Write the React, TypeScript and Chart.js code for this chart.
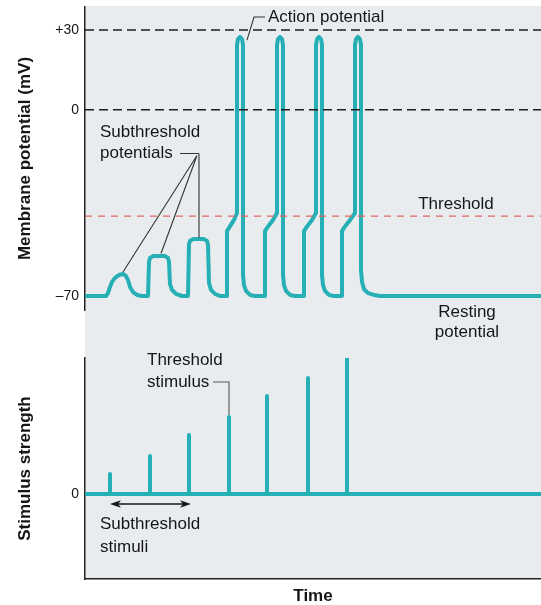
import React, { useEffect, useRef } from 'react';
import { Chart, registerables } from 'chart.js';

Chart.register(...registerables);

// ---------- DATA ----------
const timeRange = [0, 45.6];

// Membrane potential trace (time in arbitrary units, mV)
const traceTime = [
  0, 2.1, 2.3, 2.5, 2.7, 3.0, 3.4, 3.8, 4.1, 4.3, 4.5, 4.8, 5.2, 5.7, 6.3,
  6.4, 6.5, 6.8, 8.0, 8.3, 8.4, 8.5, 8.7, 9.1, 9.7, 10.3,
  10.4, 10.5, 10.8, 11.9, 12.2, 12.3, 12.4, 12.6, 13.0, 13.5, 14.2,
  14.2, 14.4, 14.9, 15.2, 15.2, 15.3, 15.5, 15.7, 15.8, 15.8, 15.9, 16.1, 16.5, 17.0, 18.0,
  18.0, 18.2, 18.8, 19.2, 19.2, 19.3, 19.5, 19.7, 19.8, 19.8, 19.9, 20.1, 20.5, 21.0, 21.9,
  21.9, 22.1, 22.7, 23.1, 23.1, 23.2, 23.4, 23.6, 23.7, 23.7, 23.8, 24.0, 24.4, 24.9, 25.7,
  25.7, 25.9, 26.5, 27.0, 27.0, 27.1, 27.3, 27.5, 27.6, 27.6, 27.7, 27.9, 28.3, 28.9, 29.5, 45.6,
];
const traceMv = [
  -70, -70, -68.9, -66.6, -64.7, -63.2, -62.1, -61.7, -62.5, -64.0, -66.6, -68.5, -69.6, -70, -70,
  -57.2, -55.7, -55.0, -55.0, -55.7, -57.2, -65.5, -67.7, -69.2, -70, -70,
  -50.5, -49.3, -48.6, -48.6, -49.3, -50.8, -65.1, -67.7, -69.2, -70, -70,
  -45.6, -44.4, -41.4, -38.8, 24.4, 26.6, 27.4, 26.6, 24.4, -62.1, -65.9, -68.1, -69.6, -70, -70,
  -45.6, -44.4, -41.4, -38.8, 24.4, 26.6, 27.4, 26.6, 24.4, -62.1, -65.9, -68.1, -69.6, -70, -70,
  -45.6, -44.4, -41.4, -38.8, 24.4, 26.6, 27.4, 26.6, 24.4, -62.1, -65.9, -68.1, -69.6, -70, -70,
  -45.6, -44.4, -41.4, -38.8, 24.4, 26.6, 27.4, 26.6, 24.4, -60.2, -64.7, -67.4, -68.9, -69.6, -70, -70,
];

const membraneTicks = [-70, 0, 30];
const membraneRange = [-75.26, 38.65];
const peakRefMv = 30;
const zeroMv = 0;
const thresholdMv = -40;

// Stimuli
const stimulusTimes = [2.5, 6.5, 10.4, 14.4, 18.2, 22.3, 26.2];
const stimulusStrength = [1.0, 1.9, 2.95, 3.85, 4.9, 5.8, 6.8];
const stimulusTicks = [0];
const stimulusRange = [-4.25, 6.8];

// Annotation anchors (data coordinates)
const actionLeaderT = [16.2, 16.9, 18.0];
const actionLeaderMv = [26.2, 34.9, 34.9];
const actionLabel = { t: 18.3, mv: 34.9, text: 'Action potential' };
const subPotLabel = { t: 1.5, mv: [-8.3, -16.2], text: ['Subthreshold', 'potentials'] };
const subPotHoriz = { t: [9.5, 11.4], mv: -16.4 };
const subPotVert = { t: 11.4, mv: [-16.4, -48.1] };
const subPotDiagFrom = { t: 11.2, mv: -17.2 };
const subPotDiagTo = { t: [3.8, 7.6], mv: [-61.0, -54.0] };
const thresholdLabel = { t: 37.1, mv: -35.4, text: 'Threshold' };
const restingLabel = { t: 38.2, mv: [-76.0, -83.5], text: ['Resting', 'potential'] };

const thrStimLabel = { t: 6.2, v: [6.7, 5.6], text: ['Threshold', 'stimulus'] };
const thrStimLeaderT = [12.8, 14.4, 14.4];
const thrStimLeaderV = [5.6, 5.6, 3.95];
const subStimArrow = { t: [2.5, 10.6], v: -0.5 };
const subStimLabel = { t: 1.5, v: [-1.5, -2.65], text: ['Subthreshold', 'stimuli'] };

// ---------- STYLE ----------
const FONT = '"Liberation Sans", Arial, Helvetica, sans-serif';
const TEAL = '#27afb6';
const INK = '#161616';
const AXIS = '#222';

const refLine = (label: string, y: number, color: string, dash: number[], width: number) => ({
  label,
  data: [{ x: timeRange[0], y }, { x: timeRange[1], y }],
  borderColor: color,
  borderWidth: width,
  borderDash: dash,
  pointRadius: 0,
  order: 0,
});

const textStyle = (ctx: CanvasRenderingContext2D) => {
  ctx.fillStyle = INK;
  ctx.font = `17px ${FONT}`;
  ctx.textBaseline = 'middle';
};

const topAnnotations = {
  id: 'topAnnotations',
  afterDatasetsDraw(chart: any) {
    const { ctx } = chart;
    const xs = chart.scales.x;
    const ys = chart.scales.y;
    const X = (t: number) => xs.getPixelForValue(t);
    const Y = (v: number) => ys.getPixelForValue(v);
    ctx.save();
    ctx.strokeStyle = '#333';
    ctx.lineWidth = 1.1;
    ctx.beginPath();
    actionLeaderT.forEach((t, i) => (i ? ctx.lineTo(X(t), Y(actionLeaderMv[i])) : ctx.moveTo(X(t), Y(actionLeaderMv[i]))));
    ctx.stroke();
    ctx.beginPath();
    ctx.moveTo(X(subPotHoriz.t[0]), Y(subPotHoriz.mv));
    ctx.lineTo(X(subPotHoriz.t[1]), Y(subPotHoriz.mv));
    ctx.moveTo(X(subPotVert.t), Y(subPotVert.mv[0]));
    ctx.lineTo(X(subPotVert.t), Y(subPotVert.mv[1]));
    subPotDiagTo.t.forEach((t, i) => {
      ctx.moveTo(X(subPotDiagFrom.t), Y(subPotDiagFrom.mv));
      ctx.lineTo(X(t), Y(subPotDiagTo.mv[i]));
    });
    ctx.stroke();

    textStyle(ctx);
    ctx.textAlign = 'left';
    ctx.fillText(actionLabel.text, X(actionLabel.t), Y(actionLabel.mv));
    subPotLabel.text.forEach((s, i) => ctx.fillText(s, X(subPotLabel.t), Y(subPotLabel.mv[i])));
    ctx.textAlign = 'center';
    ctx.fillText(thresholdLabel.text, X(thresholdLabel.t), Y(thresholdLabel.mv));
    restingLabel.text.forEach((s, i) => ctx.fillText(s, X(restingLabel.t), Y(restingLabel.mv[i])));
    ctx.restore();
  },
};

const bottomAnnotations = {
  id: 'bottomAnnotations',
  afterDatasetsDraw(chart: any) {
    const { ctx } = chart;
    const xs = chart.scales.x;
    const ys = chart.scales.y;
    const X = (t: number) => xs.getPixelForValue(t);
    const Y = (v: number) => ys.getPixelForValue(v);
    ctx.save();
    ctx.strokeStyle = '#555';
    ctx.lineWidth = 1.1;
    ctx.beginPath();
    thrStimLeaderT.forEach((t, i) => (i ? ctx.lineTo(X(t), Y(thrStimLeaderV[i])) : ctx.moveTo(X(t), Y(thrStimLeaderV[i]))));
    ctx.stroke();

    const ay = Y(subStimArrow.v);
    const x1 = X(subStimArrow.t[0]);
    const x2 = X(subStimArrow.t[1]);
    ctx.strokeStyle = INK;
    ctx.fillStyle = INK;
    ctx.lineWidth = 1.5;
    ctx.beginPath();
    ctx.moveTo(x1 + 5, ay);
    ctx.lineTo(x2 - 5, ay);
    ctx.stroke();
    ctx.beginPath();
    ctx.moveTo(x1, ay);
    ctx.lineTo(x1 + 11, ay - 3.8);
    ctx.lineTo(x1 + 8, ay);
    ctx.lineTo(x1 + 11, ay + 3.8);
    ctx.closePath();
    ctx.fill();
    ctx.beginPath();
    ctx.moveTo(x2, ay);
    ctx.lineTo(x2 - 11, ay - 3.8);
    ctx.lineTo(x2 - 8, ay);
    ctx.lineTo(x2 - 11, ay + 3.8);
    ctx.closePath();
    ctx.fill();

    textStyle(ctx);
    ctx.textAlign = 'left';
    thrStimLabel.text.forEach((s, i) => ctx.fillText(s, X(thrStimLabel.t), Y(thrStimLabel.v[i])));
    subStimLabel.text.forEach((s, i) => ctx.fillText(s, X(subStimLabel.t), Y(subStimLabel.v[i])));
    ctx.restore();
  },
};

const yTitle = (text: string) => ({
  display: true,
  text,
  color: INK,
  font: { size: 17, weight: 'bold' as const, family: FONT },
  padding: { top: 15, bottom: 0 },
});

const tickFmt = (v: any) => (v > 0 ? '+' + v : v < 0 ? '\u2013' + Math.abs(v) : '0');

const fixYAxis = (s: any) => {
  s.width = 85;
  s.paddingTop = 0;
  s.paddingBottom = 0;
};

export default function App() {
  const topRef = useRef<HTMLCanvasElement | null>(null);
  const botRef = useRef<HTMLCanvasElement | null>(null);

  useEffect(() => {
    if (!topRef.current || !botRef.current) return;

    const membraneData = traceTime.map((t, i) => ({ x: t, y: traceMv[i] }));
    const top = new Chart(topRef.current, {
      type: 'line',
      data: {
        datasets: [
          refLine('+30 mV', peakRefMv, '#1e1e1e', [9, 5], 1.6),
          refLine('0 mV', zeroMv, '#1e1e1e', [9, 5], 1.6),
          refLine('Threshold', thresholdMv, '#e5645e', [7, 6], 1.3),
          {
            label: 'Membrane potential',
            data: membraneData,
            borderColor: TEAL,
            borderWidth: 4,
            pointRadius: 0,
            tension: 0,
            borderJoinStyle: 'round',
            borderCapStyle: 'round',
            order: 1,
          },
        ] as any,
      },
      options: {
        responsive: false,
        animation: false,
        events: [],
        layout: { padding: { top: 7, bottom: 295, left: 0, right: 0 }, autoPadding: false },
        plugins: { legend: { display: false }, tooltip: { enabled: false } },
        scales: {
          x: { type: 'linear', display: false, min: timeRange[0], max: timeRange[1] },
          y: {
            type: 'linear',
            min: membraneRange[0],
            max: membraneRange[1],
            afterBuildTicks: (s: any) => {
              s.ticks = membraneTicks.map((v) => ({ value: v }));
            },
            afterFit: fixYAxis,
            grid: { display: false, drawTicks: false },
            border: { display: true, color: AXIS, width: 1.5 },
            ticks: { padding: 6, color: INK, font: { size: 14, family: FONT }, callback: tickFmt },
            title: yTitle('Membrane potential (mV)'),
          },
        },
      } as any,
      plugins: [topAnnotations],
    });

    const stimData: { x: number; y: number }[] = [{ x: timeRange[0], y: 0 }];
    stimulusTimes.forEach((t, i) => {
      stimData.push({ x: t, y: 0 }, { x: t, y: stimulusStrength[i] }, { x: t, y: 0 });
    });
    stimData.push({ x: timeRange[1], y: 0 });

    const bottom = new Chart(botRef.current, {
      type: 'line',
      data: {
        datasets: [
          {
            label: 'Stimulus strength',
            data: stimData,
            borderColor: TEAL,
            borderWidth: 4,
            pointRadius: 0,
            tension: 0,
            borderJoinStyle: 'round',
            borderCapStyle: 'round',
          },
        ] as any,
      },
      options: {
        responsive: false,
        animation: false,
        events: [],
        layout: { padding: { top: 358, bottom: 0, left: 0, right: 0 }, autoPadding: false },
        plugins: { legend: { display: false }, tooltip: { enabled: false } },
        scales: {
          x: {
            type: 'linear',
            min: timeRange[0],
            max: timeRange[1],
            afterFit: (s: any) => {
              s.height = 26;
            },
            ticks: { display: false },
            grid: { display: false, drawTicks: false },
            border: { display: true, color: AXIS, width: 1.5 },
            title: {
              display: true,
              text: 'Time',
              color: INK,
              font: { size: 17, weight: 'bold', family: FONT, lineHeight: 1.06 },
              padding: { top: 0, bottom: 0 },
            },
          },
          y: {
            type: 'linear',
            min: stimulusRange[0],
            max: stimulusRange[1],
            afterBuildTicks: (s: any) => {
              s.ticks = stimulusTicks.map((v) => ({ value: v }));
            },
            afterFit: fixYAxis,
            grid: { display: false, drawTicks: false },
            border: { display: true, color: AXIS, width: 1.5 },
            ticks: { padding: 6, color: INK, font: { size: 14, family: FONT }, callback: tickFmt },
            title: yTitle('Stimulus strength'),
          },
        },
      } as any,
      plugins: [bottomAnnotations],
    });

    return () => {
      top.destroy();
      bottom.destroy();
    };
  }, []);

  return (
    <div style={{ position: 'fixed', left: 0, top: 0, width: 541, height: 605, background: '#fff' }}>
      <div style={{ position: 'absolute', left: 85, top: 6, width: 456, height: 573, background: '#e9ecef' }} />
      <canvas ref={topRef} width={541} height={605} style={{ position: 'absolute', left: 0, top: 0 }} />
      <canvas ref={botRef} width={541} height={605} style={{ position: 'absolute', left: 0, top: 0 }} />
    </div>
  );
}
